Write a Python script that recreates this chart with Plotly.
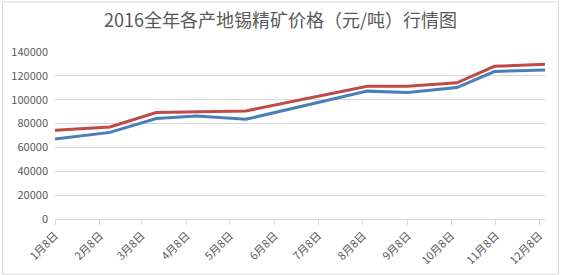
import plotly.graph_objects as go

title = "2016全年各产地锡精矿价格（元/吨）行情图"

dates = ["2016-01-08", "2016-02-15", "2016-03-18", "2016-04-15", "2016-05-19",
         "2016-08-11", "2016-09-08", "2016-10-12", "2016-11-07", "2016-12-12"]
red_values = [74400, 77200, 89200, 89700, 90600, 111300, 111200, 114200, 128000, 129700]
blue_values = [67100, 72600, 84300, 86300, 83600, 107200, 106000, 110200, 123600, 125000]

tick_dates = ["2016-%02d-08" % m for m in range(1, 13)]
tick_labels = ["%d月8日" % m for m in range(1, 13)]
y_ticks = [0, 20000, 40000, 60000, 80000, 100000, 120000, 140000]

W, H = 561, 275
L, R, T, B = 55, 16, 51.7, 56.2

fig = go.Figure()
fig.add_trace(go.Scatter(x=dates, y=blue_values, mode="lines",
                         line=dict(color="#4A7EBB", width=3), showlegend=False))
fig.add_trace(go.Scatter(x=dates, y=red_values, mode="lines",
                         line=dict(color="#BE4B48", width=3), showlegend=False))

pw = W - L - R
ph = H - T - B
def px2paper_x(px):
    return (px - L) / pw
def px2paper_y(py):
    return (H - B - py) / ph

fig.add_shape(type="rect", xref="paper", yref="paper",
              x0=px2paper_x(2.5), x1=px2paper_x(558.5),
              y0=px2paper_y(274), y1=px2paper_y(1.5),
              line=dict(color="#d9d9d9", width=1), fillcolor="rgba(0,0,0,0)", layer="below")

fig.update_layout(
    width=W, height=H,
    margin=dict(l=L, r=R, t=T, b=B),
    paper_bgcolor="white", plot_bgcolor="white",
    title=dict(text=title, x=0.5, xref="container", y=1 - 21 / H, yref="container",
               xanchor="center", yanchor="middle",
               font=dict(family="Noto Sans CJK SC", size=18, color="#595959")),
    font=dict(family="Noto Sans CJK SC", color="#595959"),
    xaxis=dict(type="date", range=[dates[0], dates[-1]], tickmode="array",
               tickvals=tick_dates, ticktext=tick_labels, tickangle=-45,
               showgrid=False, showline=True, linecolor="#d9d9d9", linewidth=1,
               ticks="outside", ticklen=5, tickcolor="#d9d9d9", automargin=False,
               tickfont=dict(size=11, color="#595959", family="Noto Sans CJK SC")),
    yaxis=dict(range=[0, 140000], tickmode="array", tickvals=y_ticks,
               ticktext=[str(v) for v in y_ticks], automargin=False,
               showgrid=True, gridcolor="#d9d9d9", gridwidth=1, zeroline=False,
               showline=False, ticks="", ticklabelstandoff=6,
               tickfont=dict(size=11, color="#595959", family="Noto Sans CJK SC")),
)

fig.write_html("out.html")
